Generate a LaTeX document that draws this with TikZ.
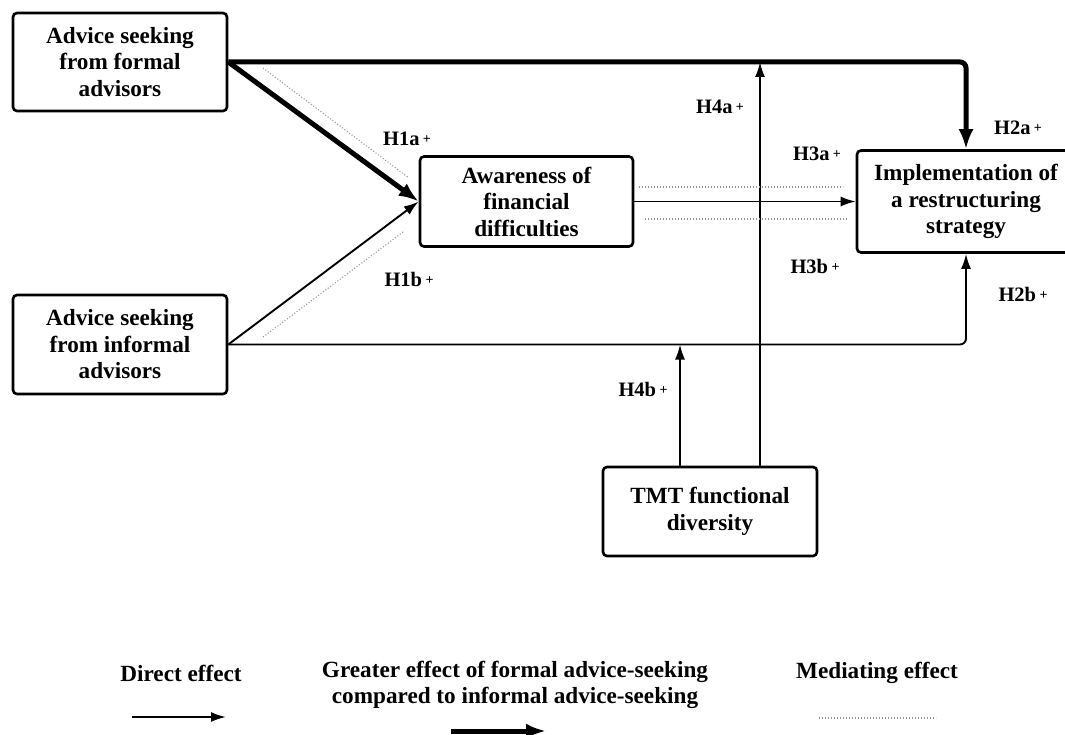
\documentclass[tikz,border=0pt]{standalone}
\usepackage{fontspec}
\setmainfont{Liberation Serif}
\usetikzlibrary{arrows.meta}
\tikzset{
  box/.style={draw, line width=2.6pt, rounded corners=4pt, align=center, inner sep=0pt,
    font=\fontsize{23.2}{26.5}\selectfont\bfseries},
  thin/.style={line width=1.9pt, -{Latex[length=15pt,width=10pt]}},
  heavy/.style={line width=5pt, -{Latex[length=20pt,width=15pt]}},
  med/.style={draw=gray!85, line width=1.1pt, dash pattern=on 1pt off 2pt},
  hlab/.style={font=\fontsize{20.5}{22}\selectfont\bfseries, inner sep=0pt},
  legtext/.style={font=\fontsize{23.2}{26}\selectfont\bfseries, align=center, inner sep=0pt}
}
\newcommand{\pl}{\,\raisebox{2pt}{\fontsize{14}{14}\selectfont +}}
\begin{document}
\begin{tikzpicture}[x=1pt,y=-1pt]
\useasboundingbox (0,0) rectangle (1065,735);
\clip (0,0) rectangle (1065,735);

% boxes
\node[box, minimum width=214pt, minimum height=98pt] (A) at (120,62) {Advice seeking\\from formal\\advisors};
\node[box, minimum width=214pt, minimum height=99pt] (B) at (120,344.5) {Advice seeking\\from informal\\advisors};
\node[box, minimum width=213pt, minimum height=90pt] (C) at (526.5,201.5) {Awareness of\\financial\\difficulties};
\node[box, minimum width=218pt, minimum height=102pt] (D) at (966,201.5) {Implementation of\\a restructuring\\strategy};
\node[box, minimum width=214pt, minimum height=89pt] (E) at (710,511.5) {TMT functional\\diversity};

% helper coordinates
\coordinate (xa) at (760,0);
\coordinate (xb) at (680,0);
\coordinate (m1s) at (263,68);
\coordinate (m1e) at (409,178);
\coordinate (m2s) at (263,337);
\coordinate (m2e) at (403,232);
\coordinate (m3s) at (639,187);
\coordinate (m3e) at (843,187);
\coordinate (m4s) at (645,219);
\coordinate (m4e) at (847,219);

% connectors
\draw[heavy, rounded corners=6pt] (A.east) -| (D.north);
\draw[heavy] (A.east) -- (C.west);
\draw[thin] (B.east) -- (C.west);
\draw[thin, rounded corners=6pt] (B.east) -| (D.south);
\draw[thin] (C.east) -- (D.west);
\draw[thin] (E.north -| xa) -- (A.east -| xa);
\draw[thin] (E.north -| xb) -- (B.east -| xb);

% mediating (dotted)
\draw[med] (m1s) -- (m1e);
\draw[med] (m2s) -- (m2e);
\draw[med] (m3s) -- (m3e);
\draw[med] (m4s) -- (m4e);

% hypothesis labels
\node[hlab] (h1a) at (407,139) {H1a\pl};
\node[hlab] (h1b) at (409,279) {H1b\pl};
\node[hlab] (h2a) at (1018,128) {H2a\pl};
\node[hlab] (h2b) at (1023,294) {H2b\pl};
\node[hlab] (h3a) at (817,154) {H3a\pl};
\node[hlab] (h3b) at (815,266) {H3b\pl};
\node[hlab] (h4a) at (720,107) {H4a\pl};
\node[hlab] (h4b) at (643,389) {H4b\pl};

% legend
\node[legtext] (l1) at (181,673) {Direct effect};
\node[legtext] (l2) at (515,685) {Greater effect of formal advice-seeking\\compared to informal advice-seeking};
\node[legtext] (l3) at (877,673) {Mediating effect};
\coordinate (d1s) at (132,717);
\coordinate (d1e) at (226,717);
\coordinate (d2s) at (451,731);
\coordinate (d2e) at (546,731);
\coordinate (d3s) at (819,718);
\coordinate (d3e) at (936,718);
\draw[thin] (d1s) -- (d1e);
\draw[heavy] (d2s) -- (d2e);
\draw[med] (d3s) -- (d3e);
\end{tikzpicture}
\end{document}
